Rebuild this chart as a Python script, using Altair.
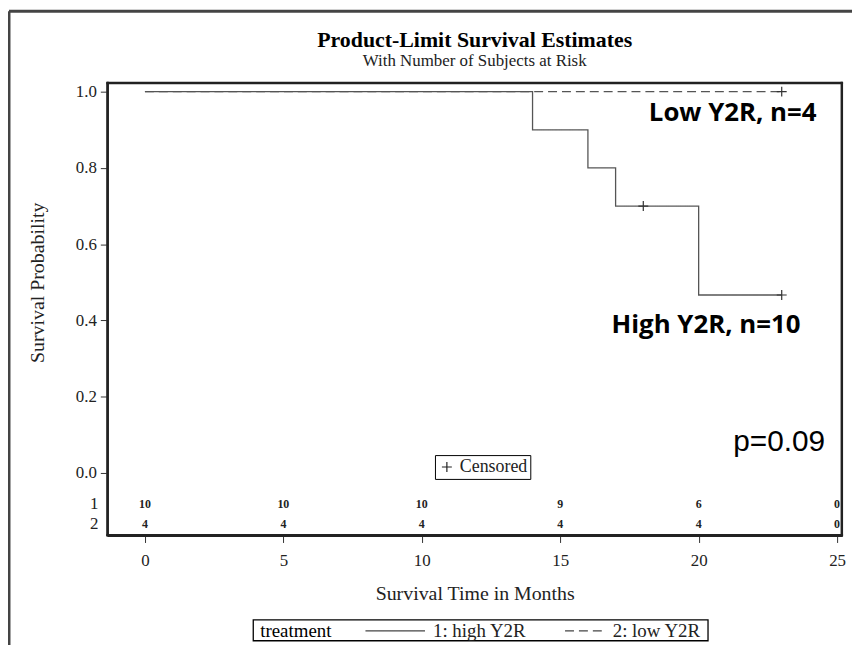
import altair as alt
import pandas as pd

# ---------------- data ----------------
groups = ["1: high Y2R", "2: low Y2R"]
legend_title = "treatment"

high_time = [0, 14, 16, 17, 20, 23]
high_surv = [1.0, 0.9, 0.8, 0.7, 0.4667, 0.4667]
low_time = [0, 23]
low_surv = [1.0, 1.0]

censor_time = [18, 23, 23]
censor_surv = [0.7, 0.4667, 1.0]

risk_times = [0, 5, 10, 15, 20, 25]
risk_high = [10, 10, 10, 9, 6, 0]
risk_low = [4, 4, 4, 4, 4, 0]
risk_row_labels = ["1", "2"]

x_ticks = [0, 5, 10, 15, 20, 25]
y_ticks = [0.0, 0.2, 0.4, 0.6, 0.8, 1.0]

annot_text = ["Low Y2R, n=4", "High Y2R, n=10"]
annot_t = [18.2, 16.85]
annot_s = [0.922, 0.367]
pval_text = ["p=0.09"]
pval_t = [21.25]
pval_s = [0.057]

# ---------------- layout ----------------
W, H = 740, 456
X_DOMAIN = [-1.36, 25.18]
Y_DOMAIN = [-0.164, 1.0234]
RISK_ROW_Y = [-0.081, -0.133]
SERIF = "Liberation Serif"
DASHES = [[1, 0], [9, 5]]

lines_df = pd.DataFrame(
    [{"treatment": groups[0], "t": t, "s": s} for t, s in zip(high_time, high_surv)]
    + [{"treatment": groups[1], "t": t, "s": s} for t, s in zip(low_time, low_surv)]
)
censor_df = pd.DataFrame({"t": censor_time, "s": censor_surv, "c": ["Censored"] * len(censor_time)})
risk_df = pd.DataFrame(
    [{"t": t, "s": RISK_ROW_Y[0], "n": str(n)} for t, n in zip(risk_times, risk_high)]
    + [{"t": t, "s": RISK_ROW_Y[1], "n": str(n)} for t, n in zip(risk_times, risk_low)]
)
rowlab_df = pd.DataFrame({"s": RISK_ROW_Y, "lab": risk_row_labels})
annot_df = pd.DataFrame({"t": annot_t, "s": annot_s, "txt": annot_text})
pval_df = pd.DataFrame({"t": pval_t, "s": pval_s, "txt": pval_text})
dummy = pd.DataFrame({"a": [0]})

xscale = alt.Scale(domain=X_DOMAIN, nice=False, zero=False)
yscale = alt.Scale(domain=Y_DOMAIN, nice=False, zero=False)

xaxis = alt.Axis(
    values=x_ticks, title="Survival Time in Months", grid=False,
    domain=True, domainColor="#222", domainWidth=2,
    tickSize=7, tickColor="#333", labelPadding=10, labelFontSize=17, labelColor="#222",
    titleFontSize=20, titleFontWeight="normal", titleColor="#222", titlePadding=15,
    labelFont=SERIF, titleFont=SERIF,
)
yaxis = alt.Axis(
    values=y_ticks, format=".1f", title="Survival Probability", grid=False,
    domain=True, domainColor="#222", domainWidth=2,
    tickSize=7, tickColor="#333", labelPadding=4, labelFontSize=17, labelColor="#222",
    titleFontSize=20, titleFontWeight="normal", titleColor="#222",
    titleX=-70, titleY=201, titleAngle=270, titleAlign="center", titleBaseline="middle",
    labelFont=SERIF, titleFont=SERIF,
)

X = alt.X("t:Q", scale=xscale, axis=xaxis)
Y = alt.Y("s:Q", scale=yscale, axis=yaxis)

lines = alt.Chart(lines_df).mark_line(
    interpolate="step-after", strokeWidth=1.3, color="#555"
).encode(
    x=X, y=Y,
    strokeDash=alt.StrokeDash(
        "treatment:N", scale=alt.Scale(domain=groups, range=DASHES), legend=None
    ),
    order=alt.Order("t:Q"),
)

censors = alt.Chart(censor_df).mark_point(
    filled=False, size=100, strokeWidth=1.2, color="#333", opacity=1
).encode(
    x=X, y=Y,
    shape=alt.Shape(
        "c:N",
        scale=alt.Scale(domain=["Censored"], range=["M-1,0H1M0,-1V1"]),
        legend=alt.Legend(
            orient="none", legendX=330, legendY=375, title=None,
            labelFont=SERIF, labelFontSize=18, labelColor="#222", labelOffset=4,
            symbolStrokeColor="#222", symbolStrokeWidth=1.2, symbolSize=100,
            strokeColor="black", fillColor="white", padding=3,
        ),
    ),
)

risk = alt.Chart(risk_df).mark_text(
    font=SERIF, fontSize=12, fontWeight="bold", color="#222", baseline="middle"
).encode(x=X, y=Y, text="n:N")

rowlab = alt.Chart(rowlab_df).mark_text(
    font=SERIF, fontSize=17, color="#222", align="right", baseline="middle"
).encode(x=alt.value(-9), y=Y, text="lab:N")

annots = alt.Chart(annot_df).mark_text(
    font="Open Sans", fontSize=26, fontWeight="bold", color="black",
    align="left", baseline="alphabetic"
).encode(x=X, y=Y, text="txt:N")

pval = alt.Chart(pval_df).mark_text(
    font="Liberation Sans", fontSize=30, color="black", align="left", baseline="alphabetic"
).encode(x=X, y=Y, text="txt:N")

# ---- plot-area frame, drawn last ----
def hrule(yv):
    return alt.Chart(dummy).mark_rule(color="#222", strokeWidth=2).encode(
        y=alt.value(yv), x=alt.value(-1), x2=alt.value(W + 1)
    )

def vrule(xv):
    return alt.Chart(dummy).mark_rule(color="#222", strokeWidth=2).encode(
        x=alt.value(xv), y=alt.value(-1), y2=alt.value(H + 1)
    )

frame = [hrule(0.5), hrule(H - 0.5), vrule(0.5), vrule(W - 0.5)]

# ---- bottom legend box (treatment) ----
LEG_Y = 552
leg_box = alt.Chart(dummy).mark_rect(fill="white", stroke="black", strokeWidth=1.3).encode(
    x=alt.value(147), x2=alt.value(605), y=alt.value(541), y2=alt.value(562)
)
leg_title = alt.Chart(dummy).mark_text(
    font=SERIF, fontSize=19, color="black", align="left", baseline="middle"
).encode(x=alt.value(154), y=alt.value(LEG_Y), text=alt.value(legend_title))
leg_sym1 = alt.Chart(dummy).mark_rule(color="#444", strokeWidth=1.3, strokeDash=DASHES[0]).encode(
    x=alt.value(260), x2=alt.value(320), y=alt.value(LEG_Y)
)
leg_lab1 = alt.Chart(dummy).mark_text(
    font=SERIF, fontSize=19, color="#222", align="left", baseline="middle"
).encode(x=alt.value(328), y=alt.value(LEG_Y), text=alt.value(groups[0]))
leg_sym2 = alt.Chart(dummy).mark_rule(color="#444", strokeWidth=1.3, strokeDash=DASHES[1]).encode(
    x=alt.value(461), x2=alt.value(500), y=alt.value(LEG_Y)
)
leg_lab2 = alt.Chart(dummy).mark_text(
    font=SERIF, fontSize=19, color="#222", align="left", baseline="middle"
).encode(x=alt.value(509), y=alt.value(LEG_Y), text=alt.value(groups[1]))

# ---- outer frame (left and top edges) ----
border_left = alt.Chart(dummy).mark_rule(color="#444", strokeWidth=3).encode(
    x=alt.value(-99), y=alt.value(-72), y2=alt.value(570)
)
border_top = alt.Chart(dummy).mark_rule(color="#444", strokeWidth=3).encode(
    y=alt.value(-72), x=alt.value(-99), x2=alt.value(760)
)

chart = alt.layer(
    lines, censors, risk, rowlab, annots, pval,
    leg_box, leg_title, leg_sym1, leg_lab1, leg_sym2, leg_lab2,
    border_left, border_top, *frame,
).properties(
    width=W, height=H,
    title=alt.TitleParams(
        "Product-Limit Survival Estimates",
        subtitle="With Number of Subjects at Risk",
        font=SERIF, fontSize=22, fontWeight="bold", color="black",
        subtitleFont=SERIF, subtitleFontSize=17, subtitleColor="#222",
        subtitlePadding=1, anchor="middle", frame="group", offset=-61,
    ),
    autosize=alt.AutoSizeParams(type="none"),
    padding={"left": 100, "top": 73, "right": 10, "bottom": 108},
    background="white",
).configure_view(
    stroke="#222", strokeWidth=2
)

chart.save("out.html", embed_options={"renderer": "svg", "actions": False})
